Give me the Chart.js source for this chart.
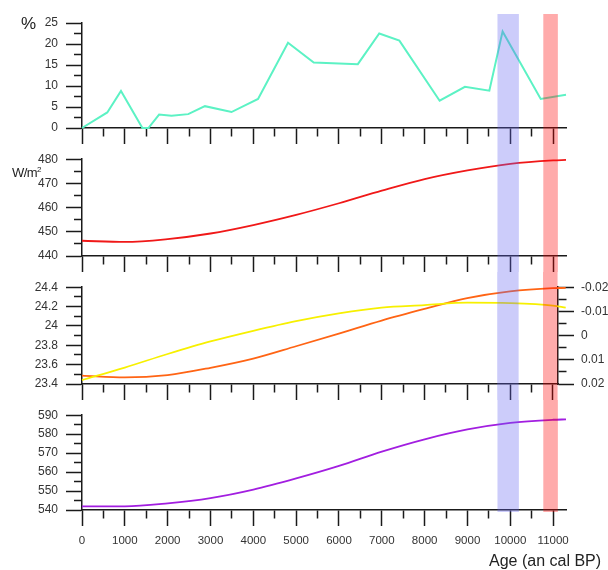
<!DOCTYPE html>
<html>
<head>
<meta charset="utf-8">
<script src="https://cdn.jsdelivr.net/npm/chart.js@4"></script>
<style>
  body { margin: 0; background: #fff; }
  #wrap { position: relative; width: 608px; height: 570px; font-family: "Liberation Sans", Arial, sans-serif; color: #222; }
  canvas { position: absolute; left: 0; }
  .lbl { position: absolute; white-space: nowrap; }
  .lbl sup { font-size: 8px; vertical-align: 5px; }
</style>
</head>
<body>
<div id="wrap">
  <canvas id="c1" width="608" height="144" style="top:0px"></canvas>
  <canvas id="c2" width="608" height="128" style="top:144px"></canvas>
  <canvas id="c3" width="608" height="128" style="top:272px"></canvas>
  <canvas id="c4" width="608" height="170" style="top:400px"></canvas>
  <div class="lbl" style="left:21px;top:14px;font-size:17px">%</div>
  <div class="lbl" style="left:12px;top:165px;font-size:13px;letter-spacing:-0.6px">W/m<sup>2</sup></div>
  <div class="lbl" style="left:489px;top:552px;font-size:16px">Age (an cal BP)</div>
</div>
<script>
// values
const pollenAge = [0, 590, 910, 1410, 1550, 1800, 2090, 2480, 2870, 3490, 4110, 4810, 5410, 6440, 6940, 7410, 8350, 8940, 9510, 9820, 10710, 11300];
const pollenPct = [0, 3.7, 8.8, 0, 0, 3.2, 2.9, 3.3, 5.2, 3.8, 6.9, 20.3, 15.6, 15.2, 22.5, 20.8, 6.5, 9.8, 8.9, 23.0, 6.9, 7.9];

const orbitAge = [0, 1000, 2000, 3000, 4000, 5000, 6000, 7000, 8000, 9000, 10000, 11000, 11300];
const insolation = [446.3, 445.8, 447.0, 449.3, 452.8, 457.0, 461.8, 467.0, 471.8, 475.4, 478.1, 479.5, 479.7];
const obliquity = [23.44, 23.57, 23.71, 23.84, 23.95, 24.05, 24.13, 24.19, 24.215, 24.24, 24.235, 24.21, 24.19];
const precession = [0.0165, 0.0173, 0.0163, 0.0133, 0.0095, 0.0044, -0.0008, -0.0062, -0.011, -0.0155, -0.0183, -0.0196, -0.0197];
const insolation2 = [541.9, 541.9, 543.5, 546.3, 550.8, 556.7, 563.3, 570.8, 577.3, 582.5, 586.0, 587.6, 587.8];

// age axis ticks (labelled every 1000)
const ageTicks = [0, 500, 1000, 1500, 2000, 2500, 3000, 3500, 4000, 4500, 5000, 5500,
                  6000, 6500, 7000, 7500, 8000, 8500, 9000, 9500, 10000, 10500, 11000];

const bands = [
  { from: 9700, to: 10200, color: 'rgba(100,100,240,0.33)' },
  { from: 10770, to: 11110, color: 'rgba(255,0,0,0.33)' }
];

const AXIS = '#1a1a1a';

function isMajor(v, major) {
  const r = v / major;
  return Math.abs(r - Math.round(r)) < 1e-6;
}
function fmt(v) {
  return String(parseFloat(v.toFixed(4)));
}
function pts(xs, ys) {
  return xs.map((x, i) => ({ x: x, y: ys[i] }));
}

function xScale(max, height, showLabels) {
  return {
    type: 'linear', min: 0, max: max,
    afterBuildTicks: s => { s.ticks = ageTicks.map(v => ({ value: v })); },
    ticks: {
      autoSkip: false, maxRotation: 0, minRotation: 0,
      display: showLabels, padding: 8, color: '#333', font: { size: 11.5 },
      callback: v => isMajor(v, 1000) ? String(v) : ''
    },
    grid: {
      drawOnChartArea: false, tickLength: 16, tickWidth: 1.5, tickColor: AXIS,
      tickBorderDash: ctx => isMajor(ctx.tick.value, 1000) ? [] : [8, 100]
    },
    border: { color: AXIS, width: 1.5 },
    afterFit: s => { s.height = height; }
  };
}

function yScale(min, max, step, major, side, width, reverse) {
  return {
    type: 'linear', position: side, min: min, max: max, reverse: !!reverse,
    ticks: {
      stepSize: step, autoSkip: false, includeBounds: false, padding: side === 'left' ? 8 : 7,
      color: '#333', font: { size: 12 },
      callback: v => isMajor(v, major) ? fmt(v) : ''
    },
    grid: {
      drawOnChartArea: false, tickLength: 16, tickWidth: 1.5, tickColor: AXIS,
      tickBorderDash: ctx => isMajor(ctx.tick.value, major) ? [] : (side === 'left' ? [0, 8, 8, 100] : [8, 100])
    },
    border: { color: AXIS, width: 1.5 },
    afterFit: s => { s.width = width; }
  };
}

const bandPlugin = {
  id: 'bands',
  afterDraw(chart, args, opts) {
    const ctx = chart.ctx;
    const x = chart.scales.x;
    const top = opts.top || 0;
    const bottom = opts.bottom || chart.height;
    bands.forEach(b => {
      const x1 = x.getPixelForValue(b.from);
      const x2 = x.getPixelForValue(b.to);
      ctx.save();
      ctx.fillStyle = b.color;
      ctx.fillRect(x1, top, x2 - x1, bottom - top);
      ctx.restore();
    });
  }
};

function line(data, color, axis, smooth) {
  return {
    data: data, borderColor: color, borderWidth: smooth ? 1.8 : 2, pointRadius: 0,
    fill: false, clip: false, yAxisID: axis || 'y',
    cubicInterpolationMode: smooth ? 'monotone' : 'default', tension: 0
  };
}

function makePanel(id, datasets, scales, padding, bandOpts) {
  return new Chart(document.getElementById(id), {
    type: 'line',
    data: { datasets: datasets },
    options: {
      responsive: false, animation: false, devicePixelRatio: 1,
      layout: { padding: padding },
      plugins: { legend: { display: false }, tooltip: { enabled: false }, bands: bandOpts },
      scales: scales
    },
    plugins: [bandPlugin]
  });
}

// panel 1: percentage curve
makePanel('c1',
  [line(pts(pollenAge, pollenPct), '#5cf2c4')],
  { x: xScale(11300, 16, false), y: yScale(0, 25, 2.5, 5, 'left', 82) },
  { top: 23, right: 42, left: 0, bottom: 0 },
  { top: 14 }
);

// panel 2: insolation
makePanel('c2',
  [line(pts(orbitAge, insolation), '#f01818', 'y', true)],
  { x: xScale(11300, 16, false), y: yScale(440, 480, 5, 10, 'left', 82) },
  { top: 7, right: 42, left: 0, bottom: 0 },
  {}
);

// panel 3: obliquity (left) and precession (right, reversed)
makePanel('c3',
  [line(pts(orbitAge, obliquity), '#f7f000', 'y', true),
   line(pts(orbitAge, precession), '#ff6414', 'y2', true)],
  { x: xScale(11120, 16, false),
    y: yScale(23.4, 24.4, 0.1, 0.2, 'left', 82),
    y2: yScale(-0.02, 0.02, 0.005, 0.01, 'right', 50, true) },
  { top: 8, right: 0, left: 0, bottom: 0 },
  {}
);

// panel 4
makePanel('c4',
  [line(pts(orbitAge, insolation2), '#a21ee0', 'y', true)],
  { x: xScale(11300, 60, true), y: yScale(540, 590, 5, 10, 'left', 82) },
  { top: 5, right: 42, left: 0, bottom: 0 },
  { bottom: 112 }
);
</script>
</body>
</html>
